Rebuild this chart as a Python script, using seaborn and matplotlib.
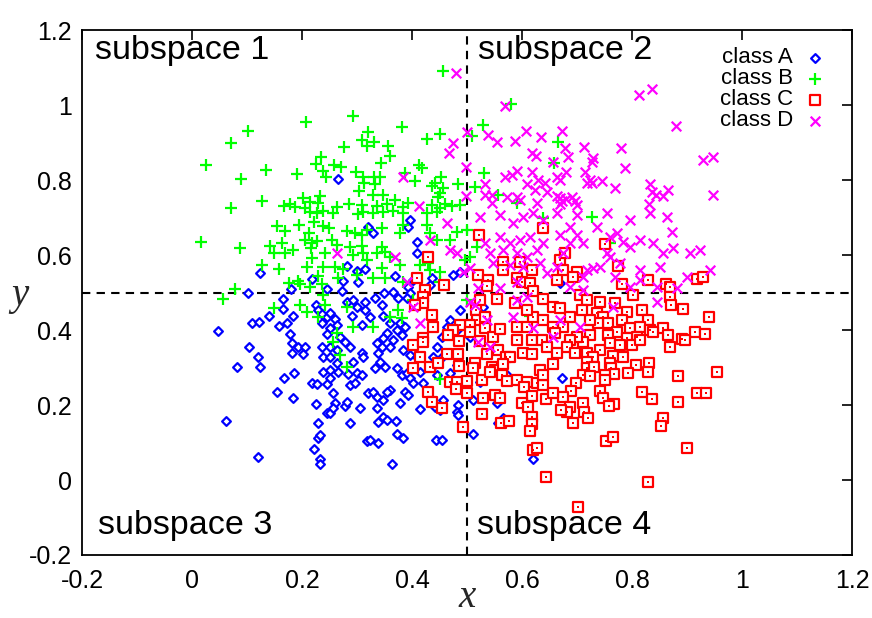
import matplotlib
matplotlib.use("Agg")
import matplotlib.pyplot as plt
import seaborn as sns
import pandas as pd

# class A
a_x = [0.265, 0.124, 0.102, 0.047, 0.104, 0.120, 0.109, 0.122, 0.140, 0.165, 0.165, 0.180, 0.158, 0.173, 0.184,
       0.178, 0.182, 0.193, 0.205, 0.202, 0.182, 0.218, 0.245, 0.275, 0.273, 0.302, 0.282, 0.300, 0.315, 0.225,
       0.229, 0.236, 0.245, 0.260, 0.251, 0.236, 0.251, 0.245, 0.264, 0.269, 0.278, 0.236, 0.251, 0.287, 0.238,
       0.251, 0.264, 0.309, 0.311, 0.282, 0.293, 0.300, 0.315, 0.291, 0.309, 0.315, 0.320,
       0.082, 0.124, 0.167, 0.185, 0.155, 0.184, 0.062, 0.120, 0.218, 0.227, 0.245, 0.225, 0.256, 0.260, 0.278,
       0.282, 0.245, 0.251, 0.256, 0.229, 0.287, 0.305, 0.318, 0.229, 0.233, 0.222, 0.233, 0.233, 0.238, 0.251,
       0.264, 0.265, 0.284, 0.300, 0.309, 0.287, 0.296, 0.251, 0.320, 0.293,
       0.342, 0.333, 0.351, 0.373, 0.382, 0.391, 0.396, 0.415, 0.420, 0.402, 0.387, 0.393, 0.360, 0.355, 0.336,
       0.347, 0.329, 0.336, 0.347, 0.338, 0.355, 0.371, 0.378, 0.415, 0.442, 0.456, 0.451, 0.484, 0.482, 0.484,
       0.373, 0.384, 0.338, 0.364, 0.444, 0.455, 0.511, 0.511, 0.524, 0.482, 0.469, 0.445, 0.436, 0.482, 0.555,
       0.556, 0.565, 0.573, 0.620, 0.324, 0.673,
       0.329, 0.396, 0.393, 0.409, 0.409, 0.369, 0.433, 0.436, 0.475, 0.487, 0.402, 0.393, 0.396, 0.391, 0.349,
       0.365, 0.375, 0.333, 0.345, 0.324, 0.347, 0.360, 0.378, 0.387, 0.373, 0.382, 0.355, 0.365, 0.347, 0.336,
       0.345, 0.360, 0.384, 0.396, 0.409, 0.445, 0.455, 0.464, 0.469, 0.487, 0.482, 0.505, 0.438, 0.455, 0.338,
       0.520, 0.529, 0.669]
a_y = [0.803, 0.552, 0.499, 0.397, 0.355, 0.328, 0.419, 0.421, 0.437, 0.483, 0.456, 0.509, 0.411, 0.419, 0.437,
       0.389, 0.365, 0.355, 0.355, 0.336, 0.339, 0.536, 0.509, 0.531, 0.504, 0.528, 0.571, 0.557, 0.563, 0.467,
       0.453, 0.443, 0.435, 0.429, 0.445, 0.419, 0.405, 0.389, 0.413, 0.381, 0.368, 0.355, 0.355, 0.355, 0.328,
       0.328, 0.347, 0.339, 0.328, 0.475, 0.480, 0.461, 0.475, 0.437, 0.413, 0.453, 0.675,
       0.301, 0.301, 0.272, 0.285, 0.235, 0.219, 0.157, 0.061, 0.259, 0.256, 0.256, 0.203, 0.232, 0.205, 0.197,
       0.208, 0.179, 0.179, 0.192, 0.152, 0.152, 0.192, 0.104, 0.112, 0.120, 0.083, 0.056, 0.043, 0.288, 0.293,
       0.312, 0.288, 0.283, 0.285, 0.280, 0.253, 0.259, 0.272, 0.232, 0.315,
       0.315, 0.299, 0.301, 0.299, 0.280, 0.285, 0.272, 0.288, 0.259, 0.259, 0.235, 0.227, 0.240, 0.235, 0.221,
       0.213, 0.235, 0.192, 0.168, 0.155, 0.160, 0.157, 0.205, 0.189, 0.195, 0.213, 0.187, 0.200, 0.181, 0.173,
       0.123, 0.112, 0.099, 0.043, 0.107, 0.107, 0.123, 0.213, 0.261, 0.261, 0.285, 0.280, 0.301, 0.307, 0.205,
       0.152, 0.165, 0.280, 0.056, 0.107, 0.272,
       0.659, 0.693, 0.675, 0.635, 0.605, 0.544, 0.520, 0.539, 0.547, 0.555, 0.533, 0.515, 0.499, 0.485, 0.499,
       0.501, 0.485, 0.485, 0.467, 0.435, 0.437, 0.419, 0.419, 0.408, 0.400, 0.387, 0.392, 0.373, 0.379, 0.365,
       0.355, 0.355, 0.347, 0.333, 0.328, 0.355, 0.381, 0.408, 0.427, 0.453, 0.400, 0.381, 0.328, 0.328, 0.339,
       0.435, 0.461, 0.525]

# class B
b_x = [0.293, 0.207, 0.102, 0.071, 0.320, 0.309, 0.276, 0.318, 0.025, 0.235, 0.225, 0.258, 0.271, 0.238, 0.135,
       0.089, 0.191, 0.244, 0.298, 0.311, 0.313, 0.304, 0.127, 0.202, 0.233, 0.215, 0.229, 0.167, 0.178, 0.187,
       0.071, 0.205, 0.285, 0.309, 0.264,
       0.456, 0.580, 0.382, 0.529, 0.451, 0.427, 0.509, 0.331, 0.356, 0.360, 0.344, 0.413, 0.418, 0.531, 0.387,
       0.331, 0.342, 0.333, 0.405, 0.453, 0.442, 0.436, 0.484, 0.515, 0.556, 0.591, 0.451, 0.447, 0.456, 0.329,
       0.347, 0.369, 0.393, 0.336, 0.355, 0.384, 0.436, 0.451, 0.460, 0.473, 0.487, 0.665, 0.658,
       0.016, 0.087, 0.155, 0.169, 0.195, 0.222, 0.238, 0.249, 0.215, 0.227, 0.238, 0.256, 0.302, 0.311, 0.213,
       0.164, 0.142, 0.149, 0.169, 0.184, 0.205, 0.218, 0.227, 0.216, 0.218, 0.242, 0.282, 0.296, 0.309, 0.318,
       0.255, 0.264, 0.287, 0.309, 0.293, 0.311, 0.318, 0.127, 0.158, 0.209, 0.238, 0.260, 0.275, 0.229, 0.265,
       0.300, 0.176, 0.193, 0.196, 0.215, 0.236, 0.078, 0.056, 0.238, 0.242, 0.196, 0.209, 0.229, 0.149, 0.282,
       0.293, 0.264, 0.256, 0.269, 0.282, 0.451,
       0.329, 0.347, 0.365, 0.384, 0.427, 0.445, 0.345, 0.378, 0.384, 0.427, 0.433, 0.445, 0.469, 0.482, 0.505,
       0.518, 0.500, 0.345, 0.336, 0.351, 0.360, 0.378, 0.345, 0.329, 0.351, 0.384, 0.415, 0.433, 0.451, 0.429,
       0.451, 0.375, 0.360, 0.382, 0.329, 0.402, 0.500, 0.496, 0.638, 0.615, 0.727, 0.760]
b_y = [0.971, 0.955, 0.931, 0.899, 0.928, 0.907, 0.888, 0.891, 0.840, 0.861, 0.843, 0.840, 0.835, 0.824, 0.827,
       0.803, 0.816, 0.808, 0.821, 0.808, 0.792, 0.771, 0.744, 0.752, 0.757, 0.741, 0.739, 0.731, 0.736, 0.728,
       0.725, 0.725, 0.736, 0.733, 0.728,
       1.091, 1.003, 0.941, 0.947, 0.923, 0.909, 0.917, 0.901, 0.891, 0.864, 0.845, 0.840, 0.832, 0.819, 0.819,
       0.808, 0.808, 0.789, 0.797, 0.808, 0.792, 0.784, 0.789, 0.781, 0.760, 0.739, 0.765, 0.755, 0.779, 0.760,
       0.760, 0.747, 0.739, 0.731, 0.736, 0.729, 0.734, 0.727, 0.737, 0.730, 0.735, 0.901, 0.845,
       0.635, 0.619, 0.677, 0.664, 0.680, 0.688, 0.677, 0.672, 0.715, 0.712, 0.717, 0.713, 0.709, 0.716, 0.659,
       0.632, 0.624, 0.605, 0.605, 0.613, 0.640, 0.632, 0.637, 0.619, 0.592, 0.605, 0.664, 0.659, 0.653, 0.667,
       0.640, 0.627, 0.621, 0.624, 0.600, 0.605, 0.587, 0.573, 0.563, 0.568, 0.568, 0.568, 0.563, 0.544, 0.539,
       0.547, 0.525, 0.531, 0.523, 0.515, 0.523, 0.509, 0.483, 0.493, 0.467, 0.467, 0.448, 0.435, 0.459, 0.461,
       0.408, 0.392, 0.368, 0.333, 0.301, 0.269,
       0.712, 0.715, 0.718, 0.712, 0.712, 0.716, 0.672, 0.659, 0.680, 0.680, 0.659, 0.640, 0.640, 0.661, 0.595,
       0.621, 0.667, 0.621, 0.605, 0.608, 0.595, 0.573, 0.565, 0.539, 0.539, 0.528, 0.573, 0.560, 0.555, 0.579,
       0.528, 0.453, 0.435, 0.432, 0.408, 0.480, 0.480, 0.587, 0.699, 0.437, 0.701, 0.632]

# class C
c_x = [0.522, 0.429, 0.409, 0.458, 0.424, 0.420, 0.420, 0.405, 0.520, 0.565, 0.565, 0.538, 0.536, 0.591, 0.600,
       0.618, 0.596, 0.615, 0.638, 0.555, 0.524, 0.516, 0.518, 0.533, 0.505, 0.487, 0.475, 0.465, 0.420, 0.402,
       0.415, 0.464, 0.484, 0.485, 0.505, 0.533, 0.547, 0.560, 0.524, 0.536, 0.556, 0.571, 0.578, 0.591, 0.609,
       0.620, 0.638, 0.609, 0.587, 0.620, 0.638, 0.618, 0.636, 0.602, 0.618, 0.645, 0.591, 0.436, 0.438, 0.420,
       0.751, 0.669, 0.675, 0.700, 0.664, 0.693, 0.678, 0.775, 0.782, 0.802, 0.829, 0.862, 0.869, 0.918, 0.929,
       0.705, 0.718, 0.742, 0.769, 0.869, 0.871, 0.893, 0.940, 0.791, 0.818, 0.829, 0.782, 0.736, 0.747, 0.756,
       0.738, 0.724, 0.709, 0.687, 0.675, 0.656, 0.669, 0.656, 0.660, 0.773, 0.796, 0.815, 0.833, 0.856, 0.865,
       0.838, 0.809, 0.791, 0.756, 0.724, 0.711, 0.700, 0.687, 0.682, 0.696, 0.718, 0.742, 0.760, 0.778, 0.800,
       0.815, 0.869, 0.891, 0.915, 0.933, 0.896, 0.765, 0.784, 0.729, 0.664,
       0.402, 0.433, 0.447, 0.485, 0.515, 0.511, 0.469, 0.482, 0.500, 0.527, 0.480, 0.429, 0.436, 0.455, 0.500,
       0.529, 0.527, 0.493, 0.545, 0.551, 0.565, 0.564, 0.542, 0.551, 0.560, 0.562, 0.576, 0.573, 0.591, 0.609,
       0.627, 0.638, 0.633, 0.638, 0.604, 0.618, 0.600, 0.611, 0.618, 0.618, 0.615, 0.620, 0.627, 0.644, 0.644,
       0.656, 0.718, 0.718, 0.731, 0.760, 0.762, 0.807, 0.831, 0.829, 0.793, 0.767, 0.751, 0.751, 0.711, 0.724,
       0.698, 0.689, 0.675, 0.656, 0.742, 0.747, 0.767, 0.758, 0.711, 0.713, 0.720, 0.687, 0.682, 0.671, 0.693,
       0.818, 0.836, 0.884, 0.884, 0.918, 0.935, 0.955, 0.856, 0.853, 0.900, 0.753, 0.765, 0.829, 0.702]
c_y = [0.653, 0.595, 0.539, 0.520, 0.507, 0.488, 0.472, 0.467, 0.547, 0.581, 0.560, 0.533, 0.517, 0.539, 0.528,
       0.560, 0.581, 0.525, 0.672, 0.483, 0.480, 0.453, 0.427, 0.435, 0.413, 0.413, 0.400, 0.387, 0.379, 0.360,
       0.328, 0.336, 0.336, 0.371, 0.395, 0.405, 0.381, 0.403, 0.371, 0.336, 0.347, 0.328, 0.328, 0.408, 0.408,
       0.435, 0.427, 0.453, 0.472, 0.504, 0.483, 0.373, 0.373, 0.339, 0.336, 0.355, 0.373, 0.440, 0.408, 0.368,
       0.629, 0.587, 0.560, 0.555, 0.533, 0.541, 0.605, 0.571, 0.523, 0.493, 0.533, 0.523, 0.515, 0.536, 0.541,
       0.493, 0.480, 0.475, 0.472, 0.488, 0.467, 0.456, 0.435, 0.448, 0.453, 0.427, 0.427, 0.445, 0.435, 0.419,
       0.419, 0.427, 0.453, 0.435, 0.408, 0.461, 0.459, 0.408, 0.392, 0.395, 0.405, 0.408, 0.400, 0.405, 0.387,
       0.395, 0.381, 0.379, 0.387, 0.387, 0.368, 0.381, 0.373, 0.355, 0.339, 0.339, 0.347, 0.365, 0.360, 0.360,
       0.373, 0.355, 0.376, 0.395, 0.389, 0.373, 0.331, 0.328, 0.328, 0.339,
       0.299, 0.301, 0.312, 0.304, 0.312, 0.299, 0.261, 0.261, 0.264, 0.267, 0.243, 0.235, 0.208, 0.192, 0.232,
       0.219, 0.176, 0.141, 0.301, 0.293, 0.309, 0.280, 0.288, 0.227, 0.219, 0.152, 0.157, 0.264, 0.267, 0.261,
       0.259, 0.253, 0.293, 0.280, 0.248, 0.224, 0.205, 0.195, 0.168, 0.149, 0.131, 0.080, 0.085, 0.008, 0.216,
       0.309, 0.315, 0.299, 0.301, 0.312, 0.299, 0.307, 0.312, 0.288, 0.285, 0.283, 0.280, 0.267, 0.280, 0.277,
       0.259, 0.237, 0.221, 0.232, 0.237, 0.219, 0.203, 0.197, 0.205, 0.181, 0.165, 0.195, 0.181, 0.187, 0.152,
       0.235, 0.216, 0.277, 0.208, 0.232, 0.232, 0.288, 0.165, 0.144, 0.085, 0.104, 0.115, -0.005, -0.072]

# class D
d_x = [0.480, 0.569, 0.500, 0.538, 0.554, 0.607, 0.587, 0.634, 0.475, 0.467, 0.618, 0.625, 0.498, 0.384, 0.533,
       0.569, 0.582, 0.591, 0.618, 0.609, 0.629, 0.642, 0.624, 0.645, 0.533, 0.545, 0.573, 0.591, 0.596, 0.498,
       0.545, 0.627, 0.413,
       0.813, 0.836, 0.880, 0.673, 0.678, 0.713, 0.780, 0.684, 0.729, 0.727, 0.656, 0.787, 0.929, 0.947, 0.680,
       0.715, 0.664, 0.669, 0.724, 0.718, 0.727, 0.745, 0.769, 0.833, 0.836, 0.844, 0.865, 0.856, 0.831, 0.947,
       0.664, 0.669, 0.673, 0.680, 0.691, 0.696, 0.700, 0.669, 0.264,
       0.464, 0.433, 0.369, 0.469, 0.482, 0.505, 0.493, 0.524, 0.560, 0.584, 0.602, 0.620, 0.638, 0.533, 0.560,
       0.578, 0.596, 0.615, 0.638, 0.542, 0.565, 0.591, 0.609, 0.627, 0.547, 0.578, 0.602, 0.633, 0.645, 0.591,
       0.560, 0.520, 0.505, 0.515, 0.591, 0.609, 0.584, 0.536, 0.620, 0.520, 0.542, 0.402, 0.415, 0.391,
       0.664, 0.700, 0.755, 0.796, 0.833, 0.864, 0.873, 0.905, 0.924, 0.942, 0.900, 0.851, 0.875, 0.856, 0.838,
       0.815, 0.796, 0.784, 0.760, 0.736, 0.687, 0.669, 0.700, 0.687, 0.711, 0.729, 0.718, 0.742, 0.711, 0.778,
       0.815, 0.815, 0.845, 0.882, 0.796, 0.769, 0.760, 0.675, 0.664, 0.711, 0.687, 0.773, 0.755, 0.669, 0.705,
       0.656, 0.765, 0.845]
d_y = [1.085, 0.997, 0.928, 0.920, 0.901, 0.931, 0.904, 0.915, 0.899, 0.872, 0.872, 0.864, 0.835, 0.808, 0.789,
       0.808, 0.813, 0.824, 0.821, 0.789, 0.800, 0.792, 0.773, 0.768, 0.760, 0.760, 0.755, 0.755, 0.747, 0.757,
       0.739, 0.739, 0.731,
       1.027, 1.043, 0.944, 0.931, 0.885, 0.888, 0.885, 0.861, 0.859, 0.848, 0.848, 0.832, 0.853, 0.861, 0.821,
       0.821, 0.808, 0.800, 0.800, 0.792, 0.792, 0.797, 0.779, 0.789, 0.768, 0.760, 0.773, 0.757, 0.736, 0.760,
       0.757, 0.752, 0.744, 0.749, 0.755, 0.745, 0.733, 0.737, 0.605,
       0.685, 0.640, 0.595, 0.613, 0.605, 0.565, 0.555, 0.701, 0.707, 0.685, 0.701, 0.712, 0.693, 0.632, 0.648,
       0.632, 0.640, 0.648, 0.632, 0.605, 0.613, 0.605, 0.595, 0.613, 0.579, 0.573, 0.568, 0.579, 0.552, 0.528,
       0.512, 0.512, 0.475, 0.467, 0.480, 0.488, 0.435, 0.427, 0.405, 0.368, 0.355, 0.461, 0.419, 0.528,
       0.712, 0.707, 0.712, 0.693, 0.712, 0.701, 0.661, 0.605, 0.613, 0.560, 0.541, 0.568, 0.619, 0.605, 0.632,
       0.640, 0.621, 0.635, 0.648, 0.675, 0.675, 0.653, 0.653, 0.632, 0.632, 0.565, 0.560, 0.568, 0.541, 0.579,
       0.560, 0.533, 0.515, 0.512, 0.515, 0.541, 0.595, 0.605, 0.568, 0.507, 0.515, 0.659, 0.605, 0.427, 0.408,
       0.381, 0.461, 0.475]

class_names = ["class A", "class B", "class C", "class D"]
region_labels = ["subspace 1", "subspace 2", "subspace 3", "subspace 4"]
x_ticks = [-0.2, 0, 0.2, 0.4, 0.6, 0.8, 1, 1.2]
y_ticks = [-0.2, 0, 0.2, 0.4, 0.6, 0.8, 1, 1.2]
split_x = 0.5
split_y = 0.5

frames = []
for name, xs, ys in zip(class_names, [a_x, b_x, c_x, d_x], [a_y, b_y, c_y, d_y]):
    frames.append(pd.DataFrame({"x": xs, "y": ys, "cls": name}))
df = pd.concat(frames, ignore_index=True)

sns.set_theme(style="white")
plt.rcParams["font.family"] = ["Liberation Sans", "DejaVu Sans"]
plt.rcParams["text.color"] = "black"

fig = plt.figure(figsize=(8.72, 6.18), dpi=100)
ax = fig.add_axes([0.094, 0.102, 0.883, 0.849])

styles = {
    "class A": dict(marker="D", s=20, facecolor="white", edgecolor="#0000ff", linewidth=1.6),
    "class B": dict(marker="+", s=70, color="#00ff00", linewidth=1.6),
    "class C": dict(marker="s", s=42, facecolor="white", edgecolor="#ff0000", linewidth=1.6),
    "class D": dict(marker="x", s=48, color="#ff00ff", linewidth=1.6),
}
for name in class_names:
    sub = df[df["cls"] == name]
    sns.scatterplot(data=sub, x="x", y="y", ax=ax, label=name, zorder=3, **styles[name])
    if name == "class C":
        sns.scatterplot(data=sub, x="x", y="y", ax=ax, marker="s", s=3, color="#ff0000",
                        linewidth=0, zorder=3, legend=False)

ax.axvline(split_x, color="black", linestyle=(0, (4, 3)), linewidth=1.5, zorder=2)
ax.axhline(split_y, color="black", linestyle=(0, (4, 3)), linewidth=1.5, zorder=2)

ax.set_xlim(x_ticks[0], x_ticks[-1])
ax.set_ylim(y_ticks[0], y_ticks[-1])
ax.set_xticks(x_ticks)
ax.set_yticks(y_ticks)
ax.set_xticklabels(["%g" % v for v in x_ticks])
ax.set_yticklabels(["%g" % v for v in y_ticks])
ax.tick_params(direction="in", length=7, width=1.2, top=True, right=True,
               labelsize=18, colors="black")
ax.tick_params(axis="x", pad=10)
ax.tick_params(axis="y", pad=7)
for sp in ax.spines.values():
    sp.set_color("black")
    sp.set_linewidth(1.3)

label_font = dict(family=["Liberation Serif", "DejaVu Serif"], style="italic", size=28)
ax.set_xlabel("x", fontdict=label_font)
ax.set_ylabel("y", fontdict=label_font, rotation=0)
ax.xaxis.set_label_coords(0.5, -0.082)
ax.yaxis.set_label_coords(-0.08, 0.495)
ax.xaxis.label.set_va("center")
ax.yaxis.label.set_va("center")
ax.yaxis.label.set_ha("center")

pos = [(0.017, 0.962), (0.514, 0.962), (0.021, 0.057), (0.513, 0.057)]
for text, (px, py) in zip(region_labels, pos):
    ax.text(px, py, text, transform=ax.transAxes, ha="left", va="center", fontsize=24.5, color="black")

leg = ax.legend(loc="upper right", bbox_to_anchor=(0.99, 0.997), frameon=False,
                markerfirst=False, fontsize=16, labelspacing=0.0, handletextpad=0.4,
                handlelength=1.2, borderpad=0.2)
for t in leg.get_texts():
    t.set_color("black")

fig.savefig("out.png", dpi=100)
